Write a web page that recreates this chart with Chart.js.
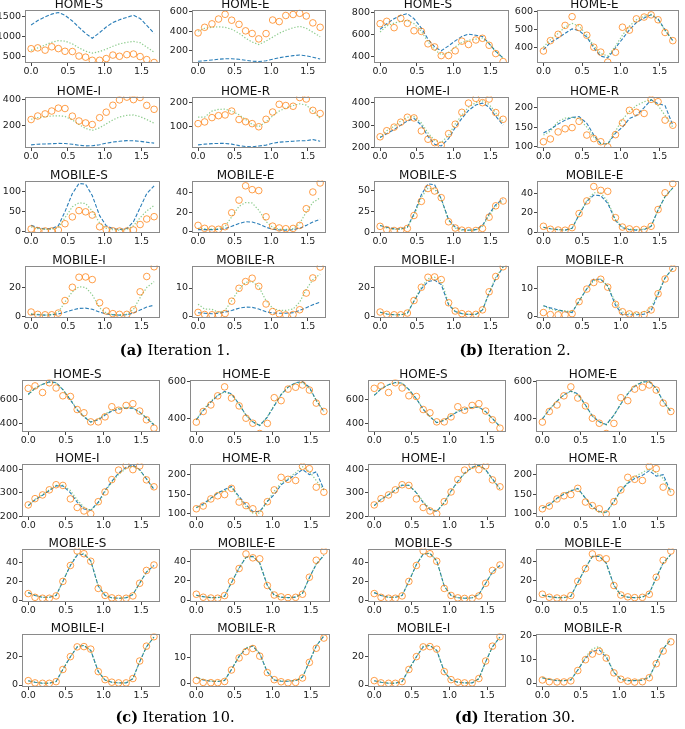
<!DOCTYPE html>
<html><head><meta charset="utf-8">
<script src="https://cdn.jsdelivr.net/npm/chart.js@4.4.1/dist/chart.umd.min.js"></script>
<style>
html,body{margin:0;padding:0;background:#fff;width:685px;height:729px;overflow:hidden;position:relative}
canvas{position:absolute}
.cap{position:absolute;font-family:"DejaVu Serif",serif;font-size:14.5px;color:#000;white-space:nowrap;transform:translate(-50%,-50%)}
</style></head><body>
<script>
// ---------- data ----------
const X = [0.00,0.09,0.19,0.28,0.37,0.46,0.56,0.65,0.74,0.83,0.93,1.02,1.11,1.20,1.30,1.39,1.48,1.57,1.67];
const X_TICKS = [0, 0.5, 1.0, 1.5];

// observed data (circles)
const OBS_HOME_S   = [700,721,664,748,703,636,630,518,490,412,412,455,542,512,553,568,505,430,358];
const OBS_HOME_E   = [383,440,475,524,572,512,470,404,377,322,376,514,498,560,570,582,555,485,440];
const OBS_HOME_I   = [248,275,291,313,335,332,274,237,222,210,262,304,357,398,419,400,416,356,326];
const OBS_HOME_R   = [113,120,138,146,149,165,130,121,113,100,131,161,193,188,185,221,215,168,155];
const OBS_MOBILE_S = [7,3,2,2,4.5,20,37,52.5,49.5,41.5,12.5,5,2.4,1.8,2,4.5,18,31.7,37.5];
const OBS_MOBILE_E = [6,2.9,2.1,1.9,4.6,19.3,32.5,47.5,43.5,42.5,15,5.2,3.3,2.5,2.8,6,23.5,41,50.5];
const OBS_MOBILE_I = [3.1,1.5,1.2,1.2,2.4,11,20.1,27,27.2,25.4,9.5,3.8,2,1.5,1.5,4.6,17,27.5,34.2];
const OBS_MOBILE_R = [1.3,0.55,0.45,0.45,0.9,5.3,9.9,12.3,13.5,10.6,4.3,1.6,0.8,0.4,0.55,2.25,8.2,13.6,17.5];

// Iteration 1
const IT1_BLUE_HOME_S   = [1290,1400,1490,1560,1600,1530,1390,1230,1080,960,1100,1240,1350,1420,1480,1530,1450,1280,1080];
const IT1_GREEN_HOME_S  = [660,720,790,860,900,890,820,720,640,590,630,690,760,820,860,880,850,740,610];
const IT1_BLUE_HOME_E   = [95,100,108,115,120,120,115,105,95,92,100,115,130,142,152,158,150,135,118];
const IT1_GREEN_HOME_E  = [400,430,440,445,440,420,380,330,290,265,300,340,380,410,435,450,430,390,345];
const IT1_BLUE_HOME_I   = [55,60,62,64,66,65,60,52,47,48,56,68,76,82,87,86,82,75,68];
const IT1_GREEN_HOME_I  = [250,262,270,275,277,272,245,210,180,165,185,215,245,268,280,283,270,248,220];
const IT1_BLUE_HOME_R   = [25,28,30,31,31,28,22,18,17,20,24,32,36,38,40,42,42,47,40];
const IT1_GREEN_HOME_R  = [140,140,165,172,173,165,150,130,110,100,120,145,165,178,188,195,190,165,135];
const IT1_BLUE_MOBILE_S = [16,10,7,8,15,50,95,120,118,90,40,15,8,6,8,25,60,95,114];
const IT1_GREEN_MOBILE_S= [12,8,6,6,10,35,62,72,70,52,22,9,5,4,6,15,35,52,65];
const IT1_BLUE_MOBILE_E = [1.5,1.5,1.5,1.8,2.5,5,8,9.8,9.5,7.5,4,2,1.2,1,1.5,3,6,9.5,12.5];
const IT1_GREEN_MOBILE_E= [3,2.5,2,2.5,5,15,26,30,29.5,22,10,4,2,1.8,2.5,8,20,30,35];
const IT1_BLUE_MOBILE_I = [1.5,1.2,1,1.2,1.8,3,4.5,5.6,5.8,5,3,1.8,1.2,1,1.2,2.5,4.5,6.5,7.8];
const IT1_GREEN_MOBILE_I= [2,1.5,1,1.2,3,10,17,20.5,20,15,6,2.5,1.2,1,1.5,5,13,20,24];
const IT1_BLUE_MOBILE_R = [1.2,1,0.8,1,1.4,2,2.8,3.2,3.1,2.5,1.5,1.1,1,1,1.2,2,3,4,5];
const IT1_GREEN_MOBILE_R= [4.2,2.5,2.4,1.3,2,5.5,9.5,12,12.3,10.5,5.5,2.8,2,2,2.5,5,9.5,13,15];

// Iteration 2
const IT2_BLUE_HOME_S   = [650,700,745,775,790,745,660,560,490,455,500,545,585,605,595,585,520,450,390];
const IT2_GREEN_HOME_S  = [625,680,705,720,730,700,630,535,465,420,440,490,530,550,560,570,520,450,390];
const IT2_BLUE_HOME_E   = [390,430,455,480,505,495,460,400,355,345,400,450,500,540,565,582,560,500,440];
const IT2_GREEN_HOME_E  = [405,445,480,515,535,520,470,410,370,355,410,470,520,555,575,585,555,495,440];
const IT2_BLUE_HOME_I   = [245,262,280,300,318,330,300,250,215,207,240,290,330,365,390,398,380,340,300];
const IT2_GREEN_HOME_I  = [245,275,295,318,335,338,310,265,232,222,255,305,345,380,400,408,392,355,315];
const IT2_BLUE_HOME_R   = [135,145,158,168,175,177,160,130,108,107,135,150,172,180,200,220,210,205,155];
const IT2_GREEN_HOME_R  = [130,140,165,173,175,172,150,125,108,108,140,170,190,205,215,220,205,180,150];
const IT2_BLUE_MOBILE_S = [8,6,4,4,6,22,45,58,57,40,15,6,3,2.5,3,8,22,33,40];
const IT2_GREEN_MOBILE_S= [8,5,3.5,3.5,6,20,42,53,52,40,14,5,2.5,2,2.5,7,20,31,38];
const IT2_BLUE_MOBILE_E = [5,3.5,2.5,2,4,18,32,38.5,38,30,12,4.5,2.5,2,2.5,6,23,37,46];
const IT2_GREEN_MOBILE_E= [5,3.5,2.5,2,4,18,33,41,41,32,13,5,3,2.5,3,6,23,37,46];
const IT2_BLUE_MOBILE_I = [3,1.8,1.2,1.2,2.3,10.5,19,24,25,22,8,3.5,2,1.5,1.5,4.5,16,26,34];
const IT2_GREEN_MOBILE_I= [3,1.8,1.2,1.2,2.3,11,20,26,27,24.5,9,3.5,2,1.5,1.5,4.5,16.5,27,34];
const IT2_BLUE_MOBILE_R = [3.8,3,2.3,1.6,1.3,5.5,10,13.5,13.5,11,4,0.5,0.5,0.5,0.7,2,8,14,17.5];
const IT2_GREEN_MOBILE_R= [3.8,2.5,2,2,1.5,5.5,10,13,13.5,11,5,1.5,1,1,1.5,3,8.5,14,17.5];

// Iteration 10
const IT10_BLUE_HOME_S   = [649,700,735,755,750,690,600,515,455,410,430,470,505,520,530,530,495,445,385];
const IT10_GREEN_HOME_S  = [645,700,735,752,745,688,605,520,460,412,435,480,512,528,535,532,498,448,390];
const IT10_BLUE_HOME_E   = [395,445,490,525,548,535,480,420,385,365,410,470,530,570,595,600,570,500,440];
const IT10_GREEN_HOME_E  = [398,450,495,528,545,530,478,420,382,365,412,475,532,570,592,595,565,498,440];
const IT10_BLUE_HOME_I   = [245,270,290,310,330,330,300,260,230,225,260,310,350,385,410,420,400,360,315];
const IT10_GREEN_HOME_I  = [245,272,292,313,332,333,310,270,238,225,255,305,345,380,405,415,398,360,318];
const IT10_BLUE_HOME_R   = [116,125,140,153,162,170,144,123,106,106,132,149,174,187,200,213,200,207,162];
const IT10_GREEN_HOME_R  = [116,122,138,155,158,168,140,118,102,102,132,158,178,190,205,220,208,185,160];
const IT10_BLUE_MOBILE_S = [8,5,3,3,5,20,37,48,49,42,15,5,2.5,2,2.5,6,18,30,37];
const IT10_GREEN_MOBILE_S= [8,5,3,3,5,20,38,49,50,42,15,5,2.5,2,2.5,6,18,30,37];
const IT10_BLUE_MOBILE_E = [5,3.5,2.5,2.5,4,18,33,44,45,38,15,5,3,2.5,3,7,23,37,46];
const IT10_GREEN_MOBILE_E= [5,3.5,2.5,2.5,4,18,33,44.5,45,38,15,5,3,2.5,3,7,23,37,46];
const IT10_BLUE_MOBILE_I = [3,2,1.3,1.3,2.5,11,20,27,28,24.5,9.5,3.5,2,1.5,1.5,4.5,16.5,27,34];
const IT10_GREEN_MOBILE_I= [3,2,1.3,1.3,2.5,11,20,27,28,24.5,9.5,3.5,2,1.5,1.5,4.5,16.5,27,34];
const IT10_BLUE_MOBILE_R = [2.5,1.5,1,0.9,1.3,5.5,10.5,13.5,14.5,11.5,4.5,1.5,1,1,1.2,2.5,8.5,14.5,18.3];
const IT10_GREEN_MOBILE_R= [2.5,1.6,1.1,1,1.4,5.5,10.5,13.8,14.5,11.5,4.5,1.6,1.1,1.1,1.3,2.5,8.5,14.5,18.3];

// Iteration 30
const IT30_BLUE_HOME_S   = [640,695,730,750,745,690,610,520,455,405,425,465,500,520,535,540,500,440,370];
const IT30_GREEN_HOME_S  = [642,697,732,748,742,688,612,522,458,408,428,470,505,525,538,538,498,440,372];
const IT30_BLUE_HOME_E   = [400,450,495,530,550,535,475,415,385,370,420,480,535,575,598,600,565,495,440];
const IT30_GREEN_HOME_E  = [400,452,497,528,548,530,472,415,383,368,420,482,538,578,600,598,562,493,440];
const IT30_BLUE_HOME_I   = [245,272,292,312,333,333,300,258,228,220,258,308,350,385,410,420,400,360,318];
const IT30_GREEN_HOME_I  = [245,272,292,314,334,332,302,262,232,222,258,306,348,383,408,417,398,358,316];
const IT30_BLUE_HOME_R   = [115,123,140,150,158,165,140,118,106,104,132,160,178,190,198,210,196,200,155];
const IT30_GREEN_HOME_R  = [115,122,138,152,160,163,140,116,104,103,130,158,180,195,205,215,205,190,155];
const IT30_BLUE_MOBILE_S = [8,5,3,3,5,20,38,49,50,42,15,5,2.5,2,2.5,6,18,30,37];
const IT30_GREEN_MOBILE_S= [8,5,3,3,5,20,38,49.5,50,42,15,5,2.5,2,2.5,6,18,30,37];
const IT30_BLUE_MOBILE_E = [5,3.5,2.5,2.5,4,18,33,45,45,38,15,5,3,2.5,3,7,23,38,47];
const IT30_GREEN_MOBILE_E= [5,3.5,2.5,2.5,4,18,33,45,45.5,38,15,5,3,2.5,3,7,23,38,47];
const IT30_BLUE_MOBILE_I = [3,2,1.3,1.3,2.5,11,20,27,28,24.5,9.5,3.5,2,1.5,1.5,4.5,16.5,27,34];
const IT30_GREEN_MOBILE_I= [3,2,1.3,1.3,2.5,11,20,27.5,28,24.5,9.5,3.5,2,1.5,1.5,4.5,16.5,27,34];
const IT30_BLUE_MOBILE_R = [2.2,1.5,1,1,1.3,5.5,10.5,13.5,14,11,4.5,1.5,1,1,1.2,2.5,8.5,14.5,18.5];
const IT30_GREEN_MOBILE_R= [2.2,1.6,1.1,1,1.4,5.5,11,14.5,15.5,11.5,4.5,1.6,1.1,1.1,1.3,2.5,8.5,14.5,18.5];

const PANEL_TITLES = ['HOME-S','HOME-E','HOME-I','HOME-R','MOBILE-S','MOBILE-E','MOBILE-I','MOBILE-R'];
const CAPTION_LABELS = ['(a)','(b)','(c)','(d)'];
const CAPTION_TEXTS = ['Iteration 1.','Iteration 2.','Iteration 10.','Iteration 30.'];

// y tick labels per iteration panel (order as PANEL_TITLES)
const YTICKS_IT1  = [[500,1000,1500],[200,400,600],[200,400],[100,200],[0,50,100],[0,20,40],[0,20],[0,10]];
const YTICKS_IT2  = [[400,600,800],[400,500,600],[200,300,400],[100,150,200],[0,25,50],[0,20,40],[0,20],[0,10]];
const YTICKS_IT10 = [[400,600],[400,600],[200,300,400],[100,150,200],[0,20,40],[0,20,40],[0,20],[0,10]];
const YTICKS_IT30 = [[400,600],[400,600],[200,300,400],[100,150,200],[0,20,40],[0,20,40],[0,20],[0,10,20]];

// ---------- layout (positions/styles) ----------
const YRANGE = {
  IT1:  [[345,1672],[77,620],[31,423],[12,225],[-3,127],[-2,53],[-1,35],[-0.7,18]],
  IT2:  [[345,827],[317,611],[198,427],[97,228],[-1,62],[-1,53.7],[-1,35],[-0.7,18.5]],
  IT10: [[325,775],[330,611],[196,426],[92,228],[-2,55],[-2,53],[-1.4,36.4],[-1.2,19.2]],
  IT30: [[325,775],[330,611],[196,426],[92,228],[-2,55],[-2,53],[-1.4,36.4],[-1.7,21]]
};
const QUADS = [
  {key:'IT1',  cols:[[25,163],[192,329]], rows:[[10,63],[97,148],[181,233],[266,318]], cap:[175,349]},
  {key:'IT2',  cols:[[374,512],[537,682]], rows:[[10,63],[97,148],[181,233],[266,318]], cap:[515,349]},
  {key:'IT10', cols:[[22,163],[190,333]], rows:[[380,432],[464,517],[549,602],[634,687]], cap:[175,716]},
  {key:'IT30', cols:[[368,509],[536,680]], rows:[[380,432],[464,517],[549,602],[634,687]], cap:[515,716]}
];
const YTICKS = {IT1:YTICKS_IT1, IT2:YTICKS_IT2, IT10:YTICKS_IT10, IT30:YTICKS_IT30};
const SRC = {
  IT1:  {BLUE:[IT1_BLUE_HOME_S,IT1_BLUE_HOME_E,IT1_BLUE_HOME_I,IT1_BLUE_HOME_R,IT1_BLUE_MOBILE_S,IT1_BLUE_MOBILE_E,IT1_BLUE_MOBILE_I,IT1_BLUE_MOBILE_R],
         GREEN:[IT1_GREEN_HOME_S,IT1_GREEN_HOME_E,IT1_GREEN_HOME_I,IT1_GREEN_HOME_R,IT1_GREEN_MOBILE_S,IT1_GREEN_MOBILE_E,IT1_GREEN_MOBILE_I,IT1_GREEN_MOBILE_R]},
  IT2:  {BLUE:[IT2_BLUE_HOME_S,IT2_BLUE_HOME_E,IT2_BLUE_HOME_I,IT2_BLUE_HOME_R,IT2_BLUE_MOBILE_S,IT2_BLUE_MOBILE_E,IT2_BLUE_MOBILE_I,IT2_BLUE_MOBILE_R],
         GREEN:[IT2_GREEN_HOME_S,IT2_GREEN_HOME_E,IT2_GREEN_HOME_I,IT2_GREEN_HOME_R,IT2_GREEN_MOBILE_S,IT2_GREEN_MOBILE_E,IT2_GREEN_MOBILE_I,IT2_GREEN_MOBILE_R]},
  IT10: {BLUE:[IT10_BLUE_HOME_S,IT10_BLUE_HOME_E,IT10_BLUE_HOME_I,IT10_BLUE_HOME_R,IT10_BLUE_MOBILE_S,IT10_BLUE_MOBILE_E,IT10_BLUE_MOBILE_I,IT10_BLUE_MOBILE_R],
         GREEN:[IT10_GREEN_HOME_S,IT10_GREEN_HOME_E,IT10_GREEN_HOME_I,IT10_GREEN_HOME_R,IT10_GREEN_MOBILE_S,IT10_GREEN_MOBILE_E,IT10_GREEN_MOBILE_I,IT10_GREEN_MOBILE_R]},
  IT30: {BLUE:[IT30_BLUE_HOME_S,IT30_BLUE_HOME_E,IT30_BLUE_HOME_I,IT30_BLUE_HOME_R,IT30_BLUE_MOBILE_S,IT30_BLUE_MOBILE_E,IT30_BLUE_MOBILE_I,IT30_BLUE_MOBILE_R],
         GREEN:[IT30_GREEN_HOME_S,IT30_GREEN_HOME_E,IT30_GREEN_HOME_I,IT30_GREEN_HOME_R,IT30_GREEN_MOBILE_S,IT30_GREEN_MOBILE_E,IT30_GREEN_MOBILE_I,IT30_GREEN_MOBILE_R]}
};
const OBS = [OBS_HOME_S,OBS_HOME_E,OBS_HOME_I,OBS_HOME_R,OBS_MOBILE_S,OBS_MOBILE_E,OBS_MOBILE_I,OBS_MOBILE_R];

const YW = 30, XH = 16, PT = 2, TSIZE = 12, TLH = 0.8;
const TH = TSIZE * TLH;
const TICK_FONT = {family:'"DejaVu Sans"', size:9.5};

const framePlugin = {
  id:'frame',
  afterDraw(chart){
    const a = chart.chartArea, c = chart.ctx;
    c.save();
    c.strokeStyle = '#8a8a8a'; c.lineWidth = 1;
    c.strokeRect(Math.round(a.left)+0.5, Math.round(a.top)+0.5, Math.round(a.right-a.left)-1, Math.round(a.bottom-a.top)-1);
    c.restore();
  }
};

function pts(ys){ return ys.map((y,i)=>({x:X[i], y:y})); }

function makePanel(axL, axR, axT, axB, title, obs, blue, green, yr, yt){
  const cv = document.createElement('canvas');
  const left = axL - YW, top = axT - TH - PT;
  const w = axR - axL + YW + 2, h = (axB - axT) + TH + PT + XH;
  cv.width = Math.round(w); cv.height = Math.round(h);
  cv.style.left = left + 'px'; cv.style.top = top + 'px';
  cv.style.width = Math.round(w) + 'px'; cv.style.height = Math.round(h) + 'px';
  document.body.appendChild(cv);
  new Chart(cv.getContext('2d'), {
    type:'line',
    data:{datasets:[
      {type:'scatter', data:pts(obs), showLine:false, pointStyle:'circle', pointRadius:3.3,
       borderColor:'rgba(255,127,14,0.75)', backgroundColor:'rgba(0,0,0,0)', borderWidth:1, order:0},
      {data:pts(green), borderColor:'rgba(44,160,44,0.55)', borderWidth:1.2, borderDash:[1.3,1.8],
       pointRadius:0, fill:false, tension:0, order:1},
      {data:pts(blue), borderColor:'rgba(31,119,180,0.95)', borderWidth:1.1, borderDash:[3.7,1.8],
       pointRadius:0, fill:false, tension:0, order:2}
    ]},
    options:{
      responsive:false, maintainAspectRatio:false, animation:false, devicePixelRatio:1,
      layout:{padding:{top:PT, right:2, bottom:0, left:0}},
      plugins:{
        legend:{display:false}, tooltip:{enabled:false},
        title:{display:true, text:title, color:'#111', padding:{top:0,bottom:0},
               font:{family:'"DejaVu Sans"', size:TSIZE, weight:'normal', lineHeight:TLH}}
      },
      scales:{
        x:{type:'linear', min:-0.083, max:1.75,
           afterBuildTicks:s=>{s.ticks = X_TICKS.map(v=>({value:v}));},
           afterFit:s=>{s.height = XH;},
           ticks:{font:TICK_FONT, color:'#222', padding:0, maxRotation:0, autoSkip:false,
                  callback:v=>Number(v).toFixed(1)},
           grid:{display:true, drawOnChartArea:false, drawTicks:true, tickLength:3, color:'#444'},
           border:{display:false}},
        y:{type:'linear', min:yr[0], max:yr[1],
           afterBuildTicks:s=>{s.ticks = yt.map(v=>({value:v}));},
           afterFit:s=>{s.width = YW;},
           ticks:{font:TICK_FONT, color:'#222', padding:1, autoSkip:false, callback:v=>String(v)},
           grid:{display:true, drawOnChartArea:false, drawTicks:true, tickLength:3, color:'#444'},
           border:{display:false}}
      }
    },
    plugins:[framePlugin]
  });
}

QUADS.forEach((q, qi)=>{
  PANEL_TITLES.forEach((t, i)=>{
    const col = q.cols[i % 2], row = q.rows[Math.floor(i / 2)];
    makePanel(col[0], col[1], row[0], row[1], t, OBS[i], SRC[q.key].BLUE[i], SRC[q.key].GREEN[i],
              YRANGE[q.key][i], YTICKS[q.key][i]);
  });
  const d = document.createElement('div');
  d.className = 'cap';
  d.style.left = q.cap[0] + 'px'; d.style.top = q.cap[1] + 'px';
  d.innerHTML = '<b>' + CAPTION_LABELS[qi] + '</b> ' + CAPTION_TEXTS[qi];
  document.body.appendChild(d);
});
</script>
</body></html>
